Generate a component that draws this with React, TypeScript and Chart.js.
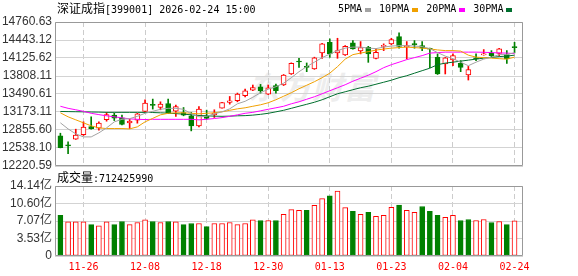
import React, { useEffect, useRef } from 'react';
import { Chart, registerables } from 'chart.js';

Chart.register(...registerables);

const dates = ['11-21','11-24','11-25','11-26','11-27','11-28','12-01','12-02','12-03','12-04','12-05','12-08','12-09','12-10','12-11','12-12','12-15','12-16','12-17','12-18','12-19','12-22','12-23','12-24','12-25','12-26','12-29','12-30','12-31','01-05','01-06','01-07','01-08','01-09','01-12','01-13','01-14','01-15','01-16','01-19','01-20','01-21','01-22','01-23','01-26','01-27','01-28','01-29','01-30','02-02','02-03','02-04','02-05','02-06','02-09','02-10','02-11','02-12','02-13','02-24'];

const opens = [12752,12592,12693,12775,12916,12888,13040,13118,13070,12982,13029,13182,13295,13252,13323,13189,13164,13105,12929,13105,13128,13242,13341,13371,13459,13560,13619,13489,13637,13649,13844,14070,13975,13932,14216,14403,14216,14180,14392,14251,14314,14120,14330,14375,14504,14321,14380,14345,14290,14137,14021,14091,14031,13826,14121,14180,14207,14208,14185,14320];
const highs = [12799,12645,12870,13000,13088,13000,13164,13153,13118,13047,13150,13389,13401,13353,13401,13294,13252,13164,13270,13206,13212,13345,13447,13507,13578,13649,13660,13649,13666,13835,14040,14120,14038,14140,14385,14463,14474,14345,14433,14415,14332,14286,14375,14474,14569,14415,14433,14415,14300,14198,14135,14198,14079,13978,14198,14274,14256,14297,14256,14403];
const lows = [12540,12438,12690,12760,12870,12852,13011,13022,12945,12881,12976,13180,13224,13212,13150,13093,13106,12840,12910,13047,13076,13240,13312,13353,13440,13550,13507,13480,13507,13640,13835,13960,13884,13925,14120,14137,14120,14170,14280,14198,14049,14110,14256,14357,14298,14109,14298,14256,13955,13835,13844,13990,13884,13737,14079,14175,14137,14168,14031,14216];
const closes = [12544,12575,12764,12905,12881,12976,13128,13065,12952,13012,13141,13330,13290,13313,13153,13270,13118,12929,13224,13058,13153,13341,13371,13489,13548,13606,13548,13601,13548,13826,14031,14055,13960,14127,14375,14198,14256,14332,14286,14309,14198,14226,14345,14451,14332,14345,14362,14297,14280,13844,14127,14168,13960,13920,14110,14190,14168,14286,14109,14310];

// volume in 亿
const volumes = [8.2,6.9,6.9,6.9,6.35,6.08,6.9,6.35,6.97,6.35,6.76,7.3,6.97,6.76,6.97,6.9,6.35,6.56,6.56,5.94,6.56,6.56,6.76,6.35,6.56,7.3,7.17,7.17,7.17,8.4,9.36,9.22,9.22,10.25,11.6,12.16,13.1,9.77,9.0,8.4,8.8,8.0,8.2,9.84,10.3,9.22,8.8,10.0,9.0,8.2,7.8,8.2,7.17,7.38,7.17,7.38,6.76,6.97,6.35,7.12];

const ma5 = [12982,12875,12787,12734,12734,12805,12893,12999,13044,13056,13097,13150,13185,13221,13238,13238,13221,13141,13088,13097,13141,13176,13229,13318,13362,13433,13513,13575,13619,13681,13778,13884,13973,14052,14132,14194,14256,14300,14318,14318,14300,14291,14318,14336,14344,14344,14336,14327,14291,14221,14159,14114,14052,13990,14052,14106,14141,14185,14185,14221];
const ma10 = [13159,13088,13035,12982,12929,12893,12881,12881,12881,12875,12911,12999,13061,13123,13150,13159,13159,13150,13141,13150,13159,13176,13203,13229,13247,13274,13300,13336,13389,13451,13513,13583,13645,13707,13778,13858,13973,14106,14185,14212,14238,14265,14283,14300,14309,14318,14309,14300,14286,14268,14256,14256,14247,14176,14141,14132,14123,14114,14106,14141];
const ma20 = [13274,13238,13212,13185,13150,13127,13106,13088,13070,13052,13044,13040,13044,13044,13044,13044,13044,13044,13035,13044,13058,13074,13097,13123,13150,13167,13194,13221,13247,13274,13318,13353,13398,13442,13495,13548,13601,13654,13716,13769,13822,13884,13955,14008,14052,14097,14132,14168,14212,14221,14229,14229,14229,14229,14229,14226,14221,14215,14212,14203];
const ma30 = [13182,13180,13178,13176,13173,13171,13167,13167,13167,13167,13167,13166,13164,13159,13153,13144,13136,13123,13111,13106,13100,13097,13100,13106,13109,13118,13132,13150,13176,13203,13238,13274,13309,13345,13389,13442,13495,13530,13566,13601,13628,13663,13698,13734,13778,13813,13858,13902,13946,14008,14035,14052,14070,14088,14106,14123,14136,14150,14159,14176];

const priceTicks = [12220.59,12538.10,12855.60,13173.11,13490.61,13808.11,14125.62,14443.12,14760.63];
const volTicks = [0,3.535,7.07,10.605,14.14];
const volTickLabels = ['0','3.53亿','7.07亿','10.60亿','14.14亿'];
const dateTickIdx = [3,11,19,27,35,43,51,59];

const maLabels = ['5PMA','10PMA','20PMA','30PMA'];
const maColors = ['#a3a3a3','#f0a000','#ff00ff','#006f2e'];
const RED = '#ff0000';
const GREEN = '#008000';
const X_MIN = -0.7;
const X_MAX = 60.1;

const framePlugin = {
  id: 'frame',
  afterDatasetsDraw(chart: any) {
    const { ctx, chartArea: a } = chart;
    ctx.save();
    ctx.strokeStyle = '#999';
    ctx.lineWidth = 1;
    ctx.beginPath();
    ctx.rect(a.left + 0.5, a.top + 0.5, a.right - a.left - 1, a.bottom - a.top - 1);
    ctx.stroke();
    ctx.restore();
  },
};

export default function App() {
  const priceRef = useRef<HTMLCanvasElement>(null);
  const volRef = useRef<HTMLCanvasElement>(null);

  useEffect(() => {
    document.body.style.margin = '0';
    const up = closes.map((c, i) => c > opens[i]);
    const volUp = closes.map((c, i) => i > 0 && c >= closes[i - 1]);
    const mas = [ma5, ma10, ma20, ma30];

    const xScaleBase = (showLabels: boolean, height: number) => ({
      type: 'linear',
      min: X_MIN,
      max: X_MAX,
      offset: false,
      afterBuildTicks: (s: any) => {
        s.ticks = dateTickIdx.map((v) => ({ value: v }));
      },
      ticks: {
        display: showLabels,
        autoSkip: false,
        maxRotation: 0,
        color: RED,
        padding: 5,
        font: { family: '"DejaVu Sans Mono"', size: 10 },
        callback: (v: any) => dates[v],
      },
      grid: { color: '#cccccc', drawTicks: false, offset: false, lineWidth: 1 },
      border: { display: false, dash: [5, 3] },
      afterFit: (s: any) => {
        s.height = height;
      },
    });

    const price = new Chart(priceRef.current as HTMLCanvasElement, {
      type: 'bar',
      data: {
        datasets: [
          ...mas.map((m, k) => ({
            type: 'line' as const,
            label: maLabels[k],
            data: m.map((v, i) => ({ x: i, y: v })),
            borderColor: maColors[k],
            borderWidth: 1,
            pointRadius: 0,
            tension: 0,
            fill: false,
            order: k,
          })),
          {
            type: 'bar' as const,
            label: 'body',
            data: opens.map((o, i) => ({ x: i, y: [o, closes[i]] })),
            backgroundColor: up.map((u) => (u ? '#ffffff' : GREEN)),
            borderColor: up.map((u) => (u ? RED : GREEN)),
            borderWidth: 1,
            borderSkipped: false,
            barThickness: 5,
            minBarLength: 1,
            grouped: false,
            order: 10,
          },
          {
            type: 'bar' as const,
            label: 'wick',
            data: lows.map((l, i) => ({ x: i, y: [l, highs[i]] })),
            backgroundColor: up.map((u) => (u ? RED : GREEN)),
            borderWidth: 0,
            barThickness: 1,
            minBarLength: 1,
            grouped: false,
            order: 11,
          },
        ] as any,
      },
      options: {
        responsive: false,
        animation: false,
        events: [],
        layout: { padding: { left: 0, right: 55, top: 22, bottom: 14 } },
        plugins: { legend: { display: false }, tooltip: { enabled: false } },
        scales: {
          x: xScaleBase(false, 0) as any,
          y: {
            type: 'linear',
            min: priceTicks[0],
            max: priceTicks[priceTicks.length - 1],
            beginAtZero: false,
            afterBuildTicks: (s: any) => {
              s.ticks = priceTicks.map((v) => ({ value: v }));
            },
            ticks: {
              autoSkip: false,
              color: '#333',
              padding: 3,
              font: { family: '"Liberation Sans", Arial', size: 12 },
              callback: (v: any) => Number(v).toFixed(2),
            },
            grid: { color: '#d3d3d3', drawTicks: false },
            border: { display: false },
            afterFit: (s: any) => {
              s.width = 55;
            },
          } as any,
        },
      },
      plugins: [framePlugin],
    });

    const vol = new Chart(volRef.current as HTMLCanvasElement, {
      type: 'bar',
      data: {
        datasets: [
          {
            label: '成交量',
            data: volumes.map((v, i) => ({ x: i, y: v })),
            backgroundColor: volUp.map((u) => (u ? '#ffffff' : GREEN)),
            borderColor: volUp.map((u) => (u ? RED : GREEN)),
            borderWidth: 1,
            borderSkipped: false,
            barThickness: 5,
            grouped: false,
          },
        ] as any,
      },
      options: {
        responsive: false,
        animation: false,
        events: [],
        layout: { padding: { left: 0, right: 55, top: 16, bottom: 0 } },
        plugins: { legend: { display: false }, tooltip: { enabled: false } },
        scales: {
          x: xScaleBase(true, 20) as any,
          y: {
            type: 'linear',
            min: 0,
            max: volTicks[volTicks.length - 1],
            afterBuildTicks: (s: any) => {
              s.ticks = volTicks.map((v) => ({ value: v }));
            },
            ticks: {
              autoSkip: false,
              color: '#333',
              padding: 3,
              font: { family: '"Liberation Sans", Arial, "Noto Sans CJK SC"', size: 12 },
              callback: (_v: any, i: number) => volTickLabels[i],
            },
            grid: { color: '#d3d3d3', drawTicks: false },
            border: { display: false },
            afterFit: (s: any) => {
              s.width = 55;
            },
          } as any,
        },
      },
      plugins: [framePlugin],
    });

    return () => {
      price.destroy();
      vol.destroy();
    };
  }, []);

  const mono = '"DejaVu Sans Mono", monospace';
  const cjk = '"Noto Sans CJK SC", sans-serif';

  return (
    <div style={{ position: 'relative', width: 578, height: 276, background: '#fff', overflow: 'hidden' }}>
      <div
        style={{
          position: 'absolute',
          left: 248,
          top: 66,
          fontFamily: cjk,
          fontSize: 31,
          fontWeight: 700,
          fontStyle: 'italic',
          color: '#ededed',
          lineHeight: '40px',
          letterSpacing: 1,
          whiteSpace: 'nowrap',
        }}
      >
        东方财富
      </div>
      <canvas ref={priceRef} width={578} height={180} style={{ position: 'absolute', left: 0, top: 0 }} />
      <canvas ref={volRef} width={578} height={106} style={{ position: 'absolute', left: 0, top: 170 }} />
      <div style={{ position: 'absolute', left: 57, top: 1, whiteSpace: 'nowrap', color: '#000', lineHeight: '14px' }}>
        <span style={{ fontFamily: cjk, fontSize: 12 }}>深证成指</span>
        <span style={{ fontFamily: mono, fontSize: 10 }}>[399001] 2026-02-24 15:00</span>
      </div>
      <div style={{ position: 'absolute', left: 338, top: 2, display: 'flex', alignItems: 'center', whiteSpace: 'nowrap', lineHeight: '13px' }}>
        {maLabels.map((l, k) => (
          <div key={l} style={{ display: 'flex', alignItems: 'center', marginRight: 8 }}>
            <span style={{ fontFamily: mono, fontSize: 10, color: '#000' }}>{l}</span>
            <span style={{ display: 'inline-block', width: 6, height: 4, marginLeft: 3, marginTop: 2, background: maColors[k] }} />
          </div>
        ))}
      </div>
      <div style={{ position: 'absolute', left: 57, top: 170, whiteSpace: 'nowrap', color: '#000', lineHeight: '14px' }}>
        <span style={{ fontFamily: cjk, fontSize: 12 }}>成交量</span>
        <span style={{ fontFamily: mono, fontSize: 10 }}>:712425990</span>
      </div>
    </div>
  );
}
